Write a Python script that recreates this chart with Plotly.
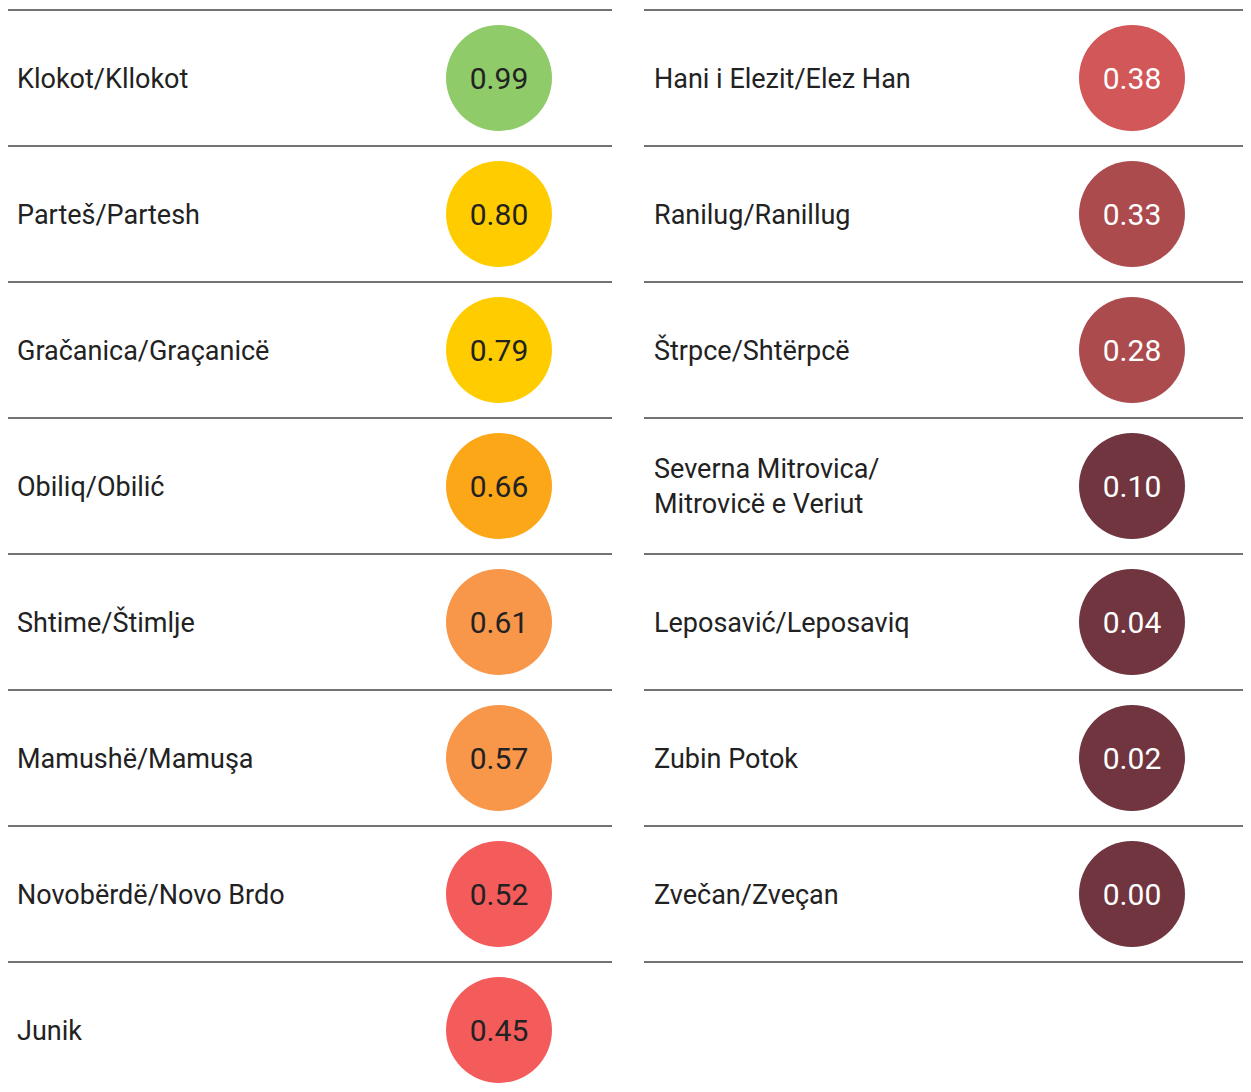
import plotly.graph_objects as go

# ---- data ----
left_names = ["Klokot/Kllokot", "Parteš/Partesh", "Gračanica/Graçanicë", "Obiliq/Obilić",
              "Shtime/Štimlje", "Mamushë/Mamuşa", "Novobërdë/Novo Brdo", "Junik"]
left_values = [0.99, 0.80, 0.79, 0.66, 0.61, 0.57, 0.52, 0.45]
right_names = ["Hani i Elezit/Elez Han", "Ranilug/Ranillug", "Štrpce/Shtërpcë",
               "Severna Mitrovica/<br>Mitrovicë e Veriut", "Leposavić/Leposaviq",
               "Zubin Potok", "Zvečan/Zveçan"]
right_values = [0.38, 0.33, 0.28, 0.10, 0.04, 0.02, 0.00]
left_colors = ["#8FCB69", "#FFCC00", "#FFCC00", "#FCA718", "#F8964A", "#F8964A", "#F45B5B", "#F45B5B"]
right_colors = ["#D15758", "#AC4B4E", "#AC4B4E", "#70353F", "#70353F", "#70353F", "#70353F"]

# ---- layout constants ----
W, H = 1251, 1092
OFF = 8  # default page body margin
ROW0, STEP = 78, 136
LINE0 = 10
TXT_DY = 3
cols = [
    dict(names=left_names, values=left_values, colors=left_colors, x0=7, x1=612, tx=17, cx=499),
    dict(names=right_names, values=right_values, colors=right_colors, x0=644, x1=1249, tx=654, cx=1132),
]
FONT = "Roboto"

fig = go.Figure()
for c in cols:
    n = len(c["values"])
    ys = [ROW0 + STEP * i for i in range(n)]
    yt = [y + TXT_DY for y in ys]
    nlines = 8
    lx, ly = [], []
    for k in range(nlines):
        y = LINE0 + STEP * k
        lx += [c["x0"], c["x1"], None]
        ly += [y, y, None]
    fig.add_trace(go.Scatter(x=lx, y=ly, mode="lines",
                             line=dict(color="#454545", width=1.6),
                             hoverinfo="skip", showlegend=False, cliponaxis=False))
    fig.add_trace(go.Scatter(x=[c["tx"]] * n, y=yt, mode="text", text=c["names"],
                             textposition="middle right",
                             textfont=dict(family=FONT, size=27, color="#222222"),
                             hoverinfo="skip", showlegend=False))
    fig.add_trace(go.Scatter(x=[c["cx"]] * n, y=ys, mode="markers",
                             marker=dict(size=106, color=c["colors"], line=dict(width=0)),
                             hoverinfo="skip", showlegend=False))
    txtcol = ["#ffffff" if v < 0.4 else "#222222" for v in c["values"]]
    fig.add_trace(go.Scatter(x=[c["cx"]] * n, y=yt, mode="text",
                             text=[f"{v:.2f}" for v in c["values"]],
                             textposition="middle center",
                             textfont=dict(family=FONT, size=30, color=txtcol),
                             hoverinfo="skip", showlegend=False))

fig.update_layout(
    width=W - OFF, height=H - OFF, margin=dict(l=0, r=0, t=0, b=0),
    paper_bgcolor="white", plot_bgcolor="white",
    xaxis=dict(range=[OFF, W], visible=False, fixedrange=True),
    yaxis=dict(range=[H, OFF], visible=False, fixedrange=True),
)
fig.write_html("out.html")
